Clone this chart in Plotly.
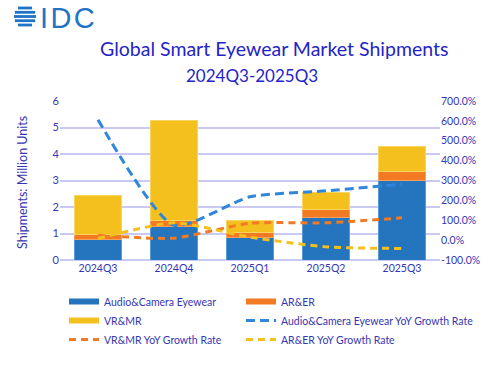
import plotly.graph_objects as go

quarters = ["2024Q3", "2024Q4", "2025Q1", "2025Q2", "2025Q3"]
audio_cam = [0.76, 1.25, 0.85, 1.60, 2.99]
ar_er = [0.19, 0.23, 0.18, 0.29, 0.36]
vr_mr = [1.49, 3.80, 0.46, 0.66, 0.92]
audio_yoy = [606, 75, 218, 248, 281]
vrmr_yoy = [25, 10, 85, 87, 112]
arer_yoy = [8, 87, 15, -34, -42]
right_ticks = [-100, 0, 100, 200, 300, 400, 500, 600, 700]
right_labels = [f"{v:.1f}%" for v in right_ticks]

TXT = "#3636b4"
TITLE = "#2424c8"
FONT = "Lato"
BLUE = "#2474BE"
ORANGE = "#F27A23"
YELLOW = "#F4C01E"
LINE_BLUE = "#2F86DA"
LOGO = "#1f74c6"
TS = 10.5  # tick font size

W, H = 500, 375
ML, MT = 60, 101
pw, ph = 380, 159
MR = W - ML - pw
MB = H - MT - ph


def px2paper(px, py):
    return (px - ML) / pw, 1 - (py - MT) / ph


fig = go.Figure()
# bars (legend entries drawn by legend-only traces below)
fig.add_bar(x=quarters, y=audio_cam, name="Audio&Camera Eyewear", showlegend=False,
            marker=dict(color=BLUE, line=dict(color="#5b9bd5", width=1)), yaxis="y")
fig.add_bar(x=quarters, y=ar_er, name="AR&ER", showlegend=False,
            marker=dict(color=ORANGE, line=dict(color="#f4a060", width=1)), yaxis="y")
fig.add_bar(x=quarters, y=vr_mr, name="VR&MR", showlegend=False,
            marker=dict(color=YELLOW, line=dict(color="#f8d560", width=1)), yaxis="y")
# growth-rate lines
fig.add_scatter(x=quarters, y=audio_yoy, name="Audio&Camera Eyewear YoY Growth Rate", mode="lines", legend="legend2",
                line=dict(color=LINE_BLUE, width=3, dash="9px,5px", shape="spline", smoothing=0.6), yaxis="y2",
                legendrank=2)
fig.add_scatter(x=quarters, y=vrmr_yoy, name="VR&MR YoY Growth Rate", mode="lines", legend="legend",
                line=dict(color=ORANGE, width=3, dash="7px,5px", shape="spline", smoothing=0.6), yaxis="y2",
                legendrank=3)
fig.add_scatter(x=quarters, y=arer_yoy, name="AR&ER YoY Growth Rate", mode="lines", legend="legend2",
                line=dict(color=YELLOW, width=3, dash="7px,5px", shape="spline", smoothing=0.6), yaxis="y2",
                legendrank=3)
# legend-only swatches for the bar series (wide flat bars like the reference)
for name, col, leg, rank in [("Audio&Camera Eyewear", BLUE, "legend", 1),
                             ("AR&ER", ORANGE, "legend2", 1),
                             ("VR&MR", YELLOW, "legend", 2)]:
    fig.add_scatter(x=[None], y=[None], name=name, mode="lines", legend=leg, legendrank=rank,
                    line=dict(color=col, width=6), hoverinfo="skip")

leg_common = dict(orientation="v", xref="container", yref="container", xanchor="left", yanchor="top",
                  traceorder="normal", font=dict(size=10.5, color=TXT, family=FONT), itemwidth=30,
                  tracegroupgap=0, bgcolor="rgba(0,0,0,0)")

fig.update_layout(
    width=W, height=H,
    barmode="stack", bargap=0.37,
    plot_bgcolor="white", paper_bgcolor="white",
    font=dict(family=FONT, color=TXT, size=TS),
    margin=dict(l=ML, r=MR, t=MT, b=MB, autoexpand=False),
    showlegend=True,
    legend=dict(x=64 / W, y=1 - 287 / H, **leg_common),
    legend2=dict(x=241 / W, y=1 - 287 / H, **leg_common),
    xaxis=dict(showgrid=False, tickfont=dict(size=TS, color=TXT), ticks="", showline=False),
    yaxis=dict(range=[0, 6], dtick=1, gridcolor="#c9c9f2", gridwidth=1.5, zeroline=True,
               zerolinecolor="#c9c9f2", zerolinewidth=1.5, tickfont=dict(size=TS + 0.5, color=TXT)),
    yaxis2=dict(range=[-100, 700], overlaying="y", side="right", tickvals=right_ticks, ticktext=right_labels,
                showgrid=False, zeroline=False, tickfont=dict(size=TS, color=TXT)),
)

anns = [
    ("Global Smart Eyewear Market Shipments", 274, 48, 19.5, TITLE, FONT, "center", 0),
    ("2024Q3-2025Q3", 252, 75, 17, TITLE, FONT, "center", 0),
    ("I\u200aD\u200aC", 38, 18, 29, LOGO, "Liberation Sans", "left", 0),
    ("Shipments: Million Units", 22, 183, 12.5, TXT, FONT, "center", -90),
]
for text, x, y, size, color, fam, xa, ang in anns:
    ax, ay = px2paper(x, y)
    fig.add_annotation(text=text, x=ax, y=ay, xref="paper", yref="paper", showarrow=False,
                       xanchor=xa, yanchor="middle", textangle=ang,
                       font=dict(size=size, color=color, family=fam))

# logo globe stripes
cx, cy, r = 25, 16.5, 11
shapes = []
for dy in [-8.5, -4.2, 0, 4.2, 8.5]:
    half = (r * r - dy * dy) ** 0.5
    x0, y0 = px2paper(cx - half, cy + dy)
    x1, _ = px2paper(cx + half, cy + dy)
    shapes.append(dict(type="line", xref="paper", yref="paper", x0=x0, x1=x1, y0=y0, y1=y0,
                       line=dict(color=LOGO, width=2.8)))
fig.update_layout(shapes=shapes)

# remove the default page margin so the figure sits at the window's top-left corner
fig.write_html("out.html", config={"displayModeBar": False},
               post_script="document.body.style.margin='0';")
